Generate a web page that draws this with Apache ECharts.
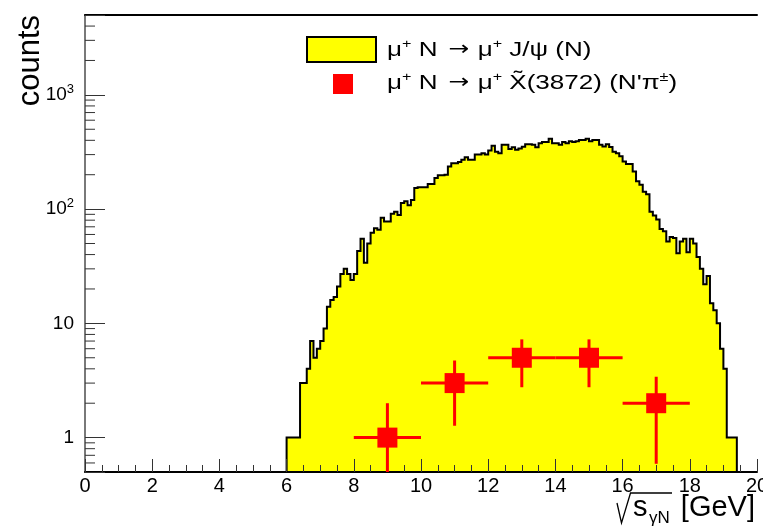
<!DOCTYPE html>
<html>
<head>
<meta charset="utf-8">
<script src="https://cdn.jsdelivr.net/npm/echarts@6/dist/echarts.min.js"></script>
<style>
  html, body { margin: 0; padding: 0; background: #ffffff; }
  #chart { width: 763px; height: 527px; }
</style>
</head>
<body>
<div id="chart"></div>
<script>
// mu+ N -> mu+ J/psi (N): counts per 0.1 GeV bin, first bin starts at 6.0 GeV
const binStart = 6.0;
const binWidth = 0.1;
const jpsiCounts = [
  1, 1, 1, 1, 3, 3, 4, 7, 5, 6,
  7, 9, 14, 16, 17, 21, 27, 30, 27, 24,
  27, 43, 55, 34, 50, 62, 68, 66, 84, 78,
  78, 91, 95, 89, 113, 117, 108, 120, 153, 155,
  155, 155, 166, 166, 187, 198, 198, 200, 236, 252,
  252, 258, 270, 285, 270, 270, 300, 300, 309, 300,
  325, 358, 318, 309, 365, 365, 336, 347, 330, 340,
  352, 370, 370, 365, 347, 378, 386, 386, 412, 378,
  378, 365, 386, 378, 392, 386, 392, 403, 403, 412,
  392, 403, 403, 365, 353, 370, 350, 318, 309, 290,
  261, 248, 248, 213, 175, 163, 142, 135, 95, 88,
  81, 67, 64, 52, 57, 56, 41, 52, 55, 42,
  55, 50, 38, 30, 22, 26, 15, 13, 10, 6,
  4, 1, 1, 1
];

// mu+ N -> mu+ X~(3872) (N' pi+-): points with errors
const xPointCenters = [9, 11, 13, 15, 17];
const xPointHalfWidths = [1, 1, 1, 1, 1];
const xPointCounts = [1, 3, 5, 5, 2];
const xPointErrors = [1, 1.73, 2.24, 2.24, 1.41];

// axis ranges and log-axis minor ticks
const xRange = [0, 20];
const yRange = [0.5, 5000];
const yMinorTicks = [0.6, 0.7, 0.8, 0.9,
  2, 3, 4, 5, 6, 7, 8, 9,
  20, 30, 40, 50, 60, 70, 80, 90,
  200, 300, 400, 500, 600, 700, 800, 900,
  2000, 3000, 4000];
const yDecadeLabels = { '0': ['1', ''], '1': ['10', ''], '2': ['10', '2'], '3': ['10', '3'] };

const FONT = '"Liberation Sans", Arial, Helvetica, sans-serif';
const YELLOW = '#ffff00';
const RED = '#ff0000';

const chart = echarts.init(document.getElementById('chart'), null, { renderer: 'canvas' });

function renderHistogram(params, api) {
  if (params.dataIndex !== 0) return null;
  const cs = params.coordSys;
  const bottom = cs.y + cs.height;
  const pts = [];
  pts.push([api.coord([binStart, yRange[0]])[0], bottom]);
  jpsiCounts.forEach(function (c, i) {
    const lo = binStart + i * binWidth;
    const hi = lo + binWidth;
    pts.push(api.coord([lo, c]));
    pts.push(api.coord([hi, c]));
  });
  const lastEdge = binStart + jpsiCounts.length * binWidth;
  pts.push([api.coord([lastEdge, yRange[0]])[0], bottom]);
  return {
    type: 'polygon',
    shape: { points: pts },
    style: { fill: YELLOW, stroke: '#000000', lineWidth: 2, lineJoin: 'miter' }
  };
}

function renderErrorPoint(params, api) {
  const cs = params.coordSys;
  const x = api.value(0), y = api.value(1), dx = api.value(2), dy = api.value(3);
  const c = api.coord([x, y]);
  const l = api.coord([x - dx, y]);
  const r = api.coord([x + dx, y]);
  const top = api.coord([x, y + dy]);
  const lowVal = y - dy;
  const bot = lowVal > yRange[0] ? api.coord([x, lowVal])[1] : cs.y + cs.height;
  return {
    type: 'group',
    children: [
      { type: 'line', shape: { x1: l[0], y1: c[1], x2: r[0], y2: c[1] }, style: { stroke: RED, lineWidth: 3 } },
      { type: 'line', shape: { x1: c[0], y1: top[1], x2: c[0], y2: bot }, style: { stroke: RED, lineWidth: 3 } },
      { type: 'rect', shape: { x: c[0] - 10, y: c[1] - 10, width: 20, height: 20 }, style: { fill: RED } }
    ]
  };
}

function renderMinorTick(params, api) {
  const p = api.coord([xRange[0], api.value(1)]);
  return {
    type: 'line',
    shape: { x1: p[0], y1: p[1], x2: p[0] + 10, y2: p[1] },
    style: { stroke: '#333333', lineWidth: 1 }
  };
}

// legend text styles
const legendRich = {
  t: { fontSize: 21, lineHeight: 25, fontFamily: FONT, fill: '#000000' },
  s: { fontSize: 13, lineHeight: 14, verticalAlign: 'top', fontFamily: FONT, fill: '#000000' },
  a: { fontSize: 20, lineHeight: 25, fontFamily: '"DejaVu Sans", sans-serif', fill: '#000000', padding: [0, 1, 0, 3] }
};

const option = {
  animation: false,
  backgroundColor: '#ffffff',
  grid: { left: 85, top: 15, width: 672, height: 457, outerBoundsMode: 'none', containLabel: false },
  xAxis: [{
    type: 'value', min: xRange[0], max: xRange[1], interval: 2, z: 3,
    axisLine: { show: true, lineStyle: { color: '#000000', width: 2 } },
    axisTick: { show: true, inside: true, length: 13, lineStyle: { color: '#333333', width: 1 } },
    minorTick: { show: true, splitNumber: 4, length: 7, lineStyle: { color: '#333333', width: 1 } },
    splitLine: { show: false },
    axisLabel: { show: true, margin: 4, color: '#000000', fontSize: 20, fontFamily: FONT, showMinLabel: true, showMaxLabel: true, hideOverlap: false }
  }, {
    type: 'value', min: xRange[0], max: xRange[1], position: 'top', z: 3,
    axisLine: { show: true, lineStyle: { color: '#000000', width: 2 } },
    axisTick: { show: false }, axisLabel: { show: false }, splitLine: { show: false }
  }],
  yAxis: [{
    type: 'log', logBase: 10, min: yRange[0], max: yRange[1], z: 3,
    axisLine: { show: true, lineStyle: { color: '#555555', width: 1.5 } },
    axisTick: { show: true, inside: true, length: 20, lineStyle: { color: '#333333', width: 1 } },
    splitLine: { show: false },
    axisLabel: {
      show: true, margin: 11, color: '#000000', fontFamily: FONT, showMinLabel: true, showMaxLabel: true, hideOverlap: false,
      formatter: function (v) {
        const e = Math.log10(v);
        const k = Math.round(e);
        if (Math.abs(e - k) > 1e-6) return '';
        const lab = yDecadeLabels[String(k)];
        if (!lab) return '';
        return lab[1] ? '{n|' + lab[0] + '}{p|' + lab[1] + '}' : '{n|' + lab[0] + '}';
      },
      rich: {
        n: { fontSize: 19, lineHeight: 24, fontFamily: FONT, color: '#000000' },
        p: { fontSize: 13, lineHeight: 13, verticalAlign: 'top', fontFamily: FONT, color: '#000000' }
      }
    }
  }, {
    type: 'log', logBase: 10, min: yRange[0], max: yRange[1], position: 'right', z: 3,
    axisLine: { show: true, lineStyle: { color: '#777777', width: 1.5 } },
    axisTick: { show: false }, axisLabel: { show: false }, splitLine: { show: false }
  }],
  series: [{
    name: 'jpsi',
    type: 'custom',
    xAxisIndex: 0, yAxisIndex: 0,
    z: 2,
    clip: true,
    renderItem: renderHistogram,
    encode: { x: 0, y: 1 },
    data: jpsiCounts.map(function (c, i) { return [binStart + i * binWidth, c]; })
  }, {
    name: 'ticks',
    type: 'custom',
    xAxisIndex: 0, yAxisIndex: 0,
    z: 4,
    silent: true,
    renderItem: renderMinorTick,
    encode: { x: 0, y: 1 },
    data: yMinorTicks.map(function (v) { return [xRange[0], v]; })
  }, {
    name: 'x3872',
    type: 'custom',
    xAxisIndex: 0, yAxisIndex: 0,
    z: 5,
    clip: true,
    renderItem: renderErrorPoint,
    encode: { x: 0, y: 1 },
    data: xPointCenters.map(function (x, i) { return [x, xPointCounts[i], xPointHalfWidths[i], xPointErrors[i]]; })
  }],
  graphic: [
    // legend
    { type: 'rect', z: 10, shape: { x: 307, y: 37, width: 69, height: 25 }, style: { fill: YELLOW, stroke: '#000000', lineWidth: 2 } },
    { type: 'text', z: 10, x: 387, y: 50, scaleX: 1.24, style: {
        text: '{t|μ}{s|+}{t| N }{a|→}{t| μ}{s|+}{t| J/ψ (N)}', verticalAlign: 'middle', align: 'left',
        rich: legendRich } },
    { type: 'rect', z: 10, shape: { x: 333, y: 74, width: 20, height: 20 }, style: { fill: RED } },
    { type: 'text', z: 10, x: 387, y: 83, scaleX: 1.24, style: {
        text: '{t|μ}{s|+}{t| N }{a|→}{t| μ}{s|+}{t| X̃(3872) (N\'π}{s|±}{t|)}', verticalAlign: 'middle', align: 'left',
        rich: legendRich } },
    // y axis title
    { type: 'text', z: 10, x: 30, y: 15, rotation: Math.PI / 2, style: {
        text: 'counts', fontSize: 31, fontFamily: FONT, fill: '#000000', align: 'right', verticalAlign: 'middle' } },
    // x axis title: sqrt(s_gammaN) [GeV]
    { type: 'polyline', z: 10, shape: { points: [[617, 503], [621.5, 523], [630.5, 493], [672, 493]] },
      style: { stroke: '#000000', lineWidth: 1.3, fill: null } },
    { type: 'text', z: 10, x: 633, y: 508, style: { text: 's', fontSize: 29, fontFamily: FONT, fill: '#000000', align: 'left', verticalAlign: 'middle' } },
    { type: 'text', z: 10, x: 649, y: 518, style: { text: 'γN', fontSize: 17, fontFamily: FONT, fill: '#000000', align: 'left', verticalAlign: 'middle' } },
    { type: 'text', z: 10, x: 755, y: 508, style: { text: '[GeV]', fontSize: 29, fontFamily: FONT, fill: '#000000', align: 'right', verticalAlign: 'middle' } }
  ]
};

chart.setOption(option);
</script>
</body>
</html>
